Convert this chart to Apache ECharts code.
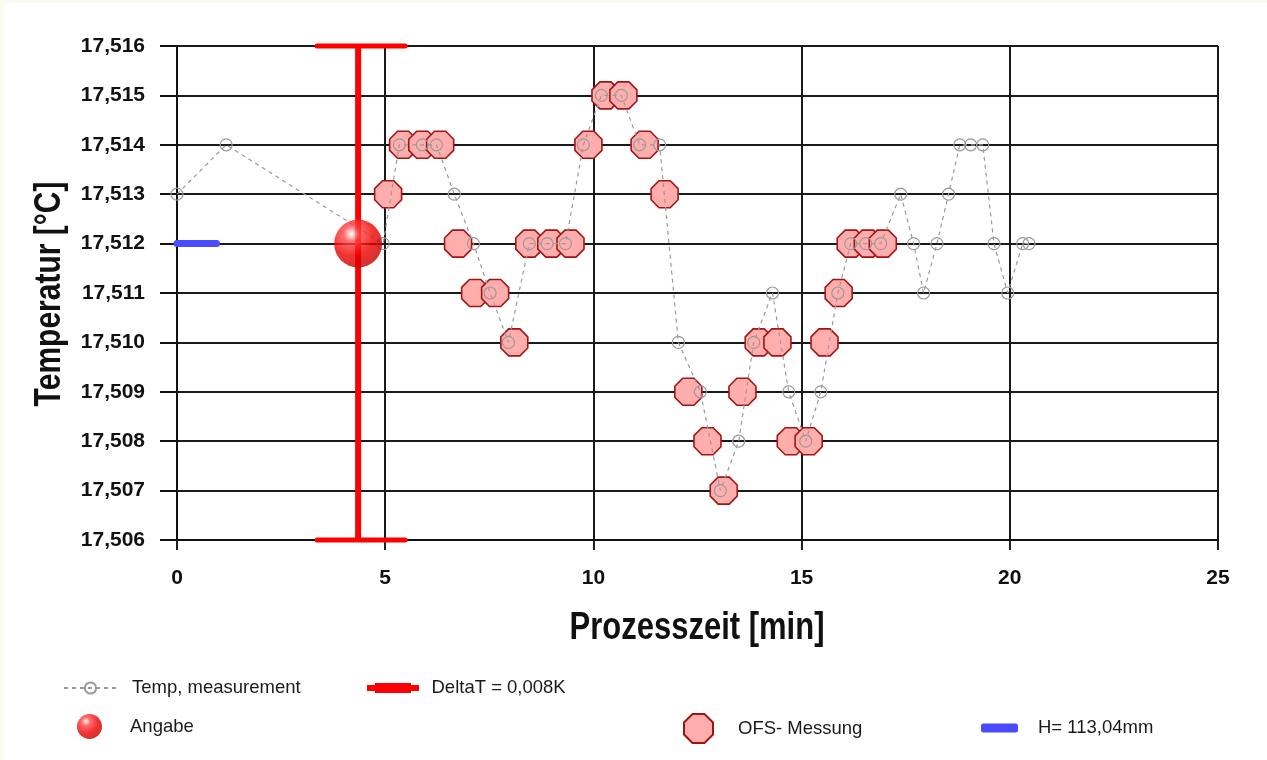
<!DOCTYPE html>
<html>
<head>
<meta charset="utf-8">
<script src="https://cdn.jsdelivr.net/npm/echarts@6/dist/echarts.min.js"></script>
<style>
  html, body { margin: 0; padding: 0; background: #ffffff; }
  #chart { position: absolute; left: 0; top: 0; width: 1267px; height: 760px; }
  .strip { position: absolute; background: #fbfbf2; pointer-events: none; z-index: 5; }
</style>
</head>
<body>
<div id="chart"></div>
<div class="strip" style="left:0;top:0;width:5px;height:760px;"></div>
<div class="strip" style="left:0;top:0;width:1267px;height:3px;"></div>
<script>
// ---- data ----
const xTicks = [0, 5, 10, 15, 20, 25];
const yTicks = [17.506, 17.507, 17.508, 17.509, 17.510, 17.511, 17.512, 17.513, 17.514, 17.515, 17.516];
const xTitle = 'Prozesszeit [min]';
const yTitle = 'Temperatur [°C]';

const tempTime = [0, 1.18, 4.95, 5.34, 5.89, 6.23, 6.66, 7.12, 7.52, 7.96,
  8.46, 8.89, 9.33, 9.76, 10.19, 10.67, 11.11, 11.59, 12.04, 12.57,
  13.05, 13.49, 13.85, 14.30, 14.69, 15.10, 15.46, 15.87, 16.18, 16.54,
  16.90, 17.38, 17.69, 17.93, 18.25, 18.53, 18.80, 19.06, 19.35, 19.62,
  19.95, 20.31, 20.46];
const tempValue = [17.513, 17.514, 17.512, 17.514, 17.514, 17.514, 17.513, 17.512, 17.511, 17.510,
  17.512, 17.512, 17.512, 17.514, 17.515, 17.515, 17.514, 17.514, 17.510, 17.509,
  17.507, 17.508, 17.510, 17.511, 17.509, 17.508, 17.509, 17.511, 17.512, 17.512,
  17.512, 17.513, 17.512, 17.511, 17.512, 17.513, 17.514, 17.514, 17.514, 17.512,
  17.511, 17.512, 17.512];

const ofsTime = [5.07, 5.43, 5.89, 6.32, 6.75, 7.16, 7.64, 8.10, 8.46, 8.99,
  9.45, 9.88, 10.29, 10.72, 11.23, 11.71, 12.28, 12.74, 13.13, 13.58,
  13.97, 14.42, 14.74, 15.17, 15.55, 15.89, 16.18, 16.59, 16.95];
const ofsValue = [17.513, 17.514, 17.514, 17.514, 17.512, 17.511, 17.511, 17.510, 17.512, 17.512,
  17.512, 17.514, 17.515, 17.515, 17.514, 17.513, 17.509, 17.508, 17.507, 17.509,
  17.510, 17.510, 17.508, 17.508, 17.510, 17.511, 17.512, 17.512, 17.512];

const angabeTime = [4.35];
const angabeValue = [17.512];

const deltaTime = [4.35];
const deltaLow = [17.506];
const deltaHigh = [17.516];

const hTime = [0, 0.95];
const hValue = [17.512, 17.512];

const names = {
  temp: 'Temp, measurement',
  delta: 'DeltaT = 0,008K',
  angabe: 'Angabe',
  ofs: 'OFS- Messung',
  h: 'H= 113,04mm'
};

// ---- chart ----
const chart = echarts.init(document.getElementById('chart'), null, { renderer: 'canvas' });
const zip = (a, b) => a.map((v, i) => [v, b[i]]);

const octagon = 'path://M0.586,0 L1.414,0 L2,0.586 L2,1.414 L1.414,2 L0.586,2 L0,1.414 L0,0.586 Z';
const sphere = {
  type: 'radial', x: 0.36, y: 0.3, r: 0.75,
  colorStops: [
    { offset: 0, color: '#ffffff' },
    { offset: 0.22, color: '#ff4a4a' },
    { offset: 0.6, color: '#f00000' },
    { offset: 1, color: '#c00000' }
  ]
};
const sans = '"Liberation Sans", Arial, sans-serif';
const legendText = { fontFamily: sans, fontSize: 18.5, color: '#1a1a1a', lineHeight: 24 };

function legendAt(name, left, top, extra) {
  return Object.assign({
    data: [name], left: left, top: top, padding: 0, orient: 'horizontal',
    selectedMode: false,
    textStyle: Object.assign({}, legendText)
  }, extra);
}

const option = {
  backgroundColor: '#ffffff',
  animation: false,
  grid: { left: 177, right: 49, top: 46, bottom: 220, containLabel: false },
  graphic: [
    {
      type: 'text', x: 697, y: 628, scaleY: 1.23, z: 10,
      style: { text: xTitle, font: 'bold 31px ' + sans, fill: '#111', align: 'center', verticalAlign: 'middle' }
    },
    {
      type: 'text', x: 50, y: 294, rotation: Math.PI / 2, scaleY: 1.25, z: 10,
      style: { text: yTitle, font: 'bold 30px ' + sans, fill: '#111', align: 'center', verticalAlign: 'middle' }
    }
  ],
  xAxis: {
    type: 'value', min: 0, max: 25, interval: 5,
    axisLine: { show: true, lineStyle: { color: '#111', width: 2 } },
    axisTick: { show: true, length: 10, lineStyle: { color: '#222', width: 2 } },
    axisLabel: {
      margin: 28, fontFamily: sans, fontWeight: 'bold',
      fontSize: 21, color: '#111',
      formatter: v => xTicks.indexOf(v) >= 0 ? String(v) : ''
    },
    splitLine: { show: true, lineStyle: { color: '#1a1a1a', width: 2 } }
  },
  yAxis: {
    type: 'value', min: 17.506, max: 17.516, interval: 0.001,
    axisLine: { show: true, lineStyle: { color: '#111', width: 2 } },
    axisTick: { show: true, length: 17, lineStyle: { color: '#111', width: 2 } },
    axisLabel: {
      margin: 32, fontFamily: sans, fontWeight: 'bold',
      fontSize: 21, color: '#111',
      formatter: v => {
        const t = yTicks.find(k => Math.abs(k - v) < 1e-7);
        return t === undefined ? '' : t.toFixed(3).replace('.', ',');
      }
    },
    splitLine: { show: true, lineStyle: { color: '#1a1a1a', width: 2 } }
  },
  legend: [
    legendAt(names.temp, 63, 676, {
      itemWidth: 53, itemHeight: 14,
      textStyle: Object.assign({}, legendText, { padding: [0, 0, 0, 10] })
    }),
    legendAt(names.delta, 367, 676, {
      itemWidth: 53, itemHeight: 10,
      icon: 'path://M0,2 L8,2 L8,0 L44,0 L44,2 L52,2 L52,8 L44,8 L44,10 L8,10 L8,8 L0,8 Z',
      textStyle: Object.assign({}, legendText, { padding: [0, 0, 0, 7] })
    }),
    legendAt(names.angabe, 77, 714, {
      itemWidth: 25, itemHeight: 25, icon: 'circle',
      textStyle: Object.assign({}, legendText, { padding: [0, 0, 0, 23] })
    }),
    legendAt(names.ofs, 683, 713, {
      itemWidth: 29, itemHeight: 29, icon: octagon,
      textStyle: Object.assign({}, legendText, { padding: [0, 0, 0, 20] })
    }),
    legendAt(names.h, 981, 716, {
      itemWidth: 37, itemHeight: 9, icon: 'roundRect',
      textStyle: Object.assign({}, legendText, { padding: [0, 0, 0, 15] })
    })
  ],
  series: [
    {
      name: names.h, type: 'line', z: 1,
      data: zip(hTime, hValue), symbol: 'none',
      lineStyle: { color: '#4b4bff', width: 7, cap: 'round' },
      itemStyle: { color: '#4b4bff' }
    },
    {
      name: names.ofs, type: 'scatter', z: 2,
      data: zip(ofsTime, ofsValue), symbol: octagon, symbolSize: 27,
      itemStyle: { color: '#ffadad', borderColor: '#a31515', borderWidth: 1.6, opacity: 1 }
    },
    {
      name: names.temp, type: 'line', z: 3,
      data: zip(tempTime, tempValue), symbol: 'circle', symbolSize: 12,
      showAllSymbol: true,
      lineStyle: { color: '#9a9a9a', width: 1.2, type: [4, 4] },
      itemStyle: { color: 'rgba(255,255,255,0)', borderColor: '#9a9a9a', borderWidth: 1.2 }
    },
    {
      name: names.delta, type: 'custom', z: 4,
      data: deltaTime.map((t, i) => [t, deltaLow[i], deltaHigh[i]]),
      encode: { x: 0, y: [1, 2] },
      itemStyle: { color: '#ff0000' },
      clip: false,
      renderItem: function (params, api) {
        const x = api.value(0);
        const lo = api.coord([x, api.value(1)]);
        const hi = api.coord([x, api.value(2)]);
        const hw = 44;
        return {
          type: 'group',
          children: [
            { type: 'line', shape: { x1: hi[0], y1: hi[1], x2: lo[0], y2: lo[1] }, style: { stroke: '#ff0000', lineWidth: 6 } },
            { type: 'line', shape: { x1: hi[0] - hw + 3, y1: hi[1], x2: hi[0] + hw + 3, y2: hi[1] }, style: { stroke: '#ff0000', lineWidth: 5, lineCap: 'round' } },
            { type: 'line', shape: { x1: lo[0] - hw + 3, y1: lo[1], x2: lo[0] + hw + 3, y2: lo[1] }, style: { stroke: '#ff0000', lineWidth: 5, lineCap: 'round' } }
          ]
        };
      }
    },
    {
      name: names.angabe, type: 'scatter', z: 5,
      data: zip(angabeTime, angabeValue), symbol: 'circle', symbolSize: 48,
      itemStyle: { color: sphere }
    }
  ]
};
chart.setOption(option);
</script>
</body>
</html>
